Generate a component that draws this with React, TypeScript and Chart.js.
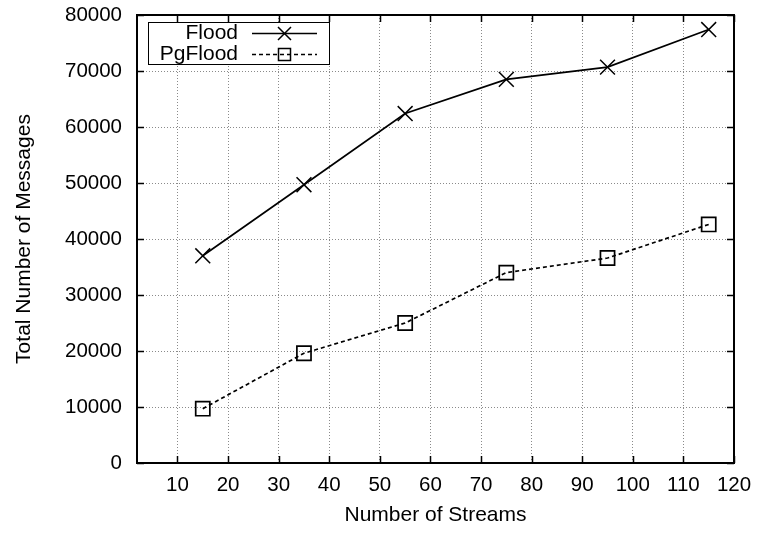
import React, { useEffect, useRef } from 'react';
import { Chart, registerables } from 'chart.js';

Chart.register(...registerables);

const streams = [15, 35, 55, 75, 95, 115];
const floodMessages = [37000, 49700, 62400, 68500, 70700, 77400];
const pgFloodMessages = [9700, 19600, 25000, 34000, 36600, 42600];
const xTickValues = [10, 20, 30, 40, 50, 60, 70, 80, 90, 100, 110, 120];
const yTickValues = [0, 10000, 20000, 30000, 40000, 50000, 60000, 70000, 80000];
const seriesNames = ['Flood', 'PgFlood'];
const xTitle = 'Number of Streams';
const yTitle = 'Total Number of Messages';

const FONT = '"Liberation Sans", Arial, Helvetica, sans-serif';
const FS = 20.5;
const TFS = 21;

function drawMarker(ctx: CanvasRenderingContext2D, kind: string, x: number, y: number, h: number) {
  ctx.beginPath();
  if (kind === 'x') {
    ctx.moveTo(x - h, y - h);
    ctx.lineTo(x + h, y + h);
    ctx.moveTo(x - h, y + h);
    ctx.lineTo(x + h, y - h);
  } else {
    ctx.rect(x - h, y - h, 2 * h, 2 * h);
  }
  ctx.stroke();
}

const framePlugin = {
  id: 'gnuFrame',
  afterDraw(chart: any) {
    const { ctx, chartArea } = chart;
    const { left, right, top, bottom } = chartArea;
    const xs = chart.scales.x;
    const ys = chart.scales.y;
    ctx.save();
    ctx.strokeStyle = '#000';
    ctx.lineWidth = 1.5;
    ctx.setLineDash([]);
    const tl = 7;
    ctx.beginPath();
    xTickValues.forEach((v) => {
      const px = Math.round(xs.getPixelForValue(v)) + 0.5;
      ctx.moveTo(px, bottom);
      ctx.lineTo(px, bottom - tl);
      ctx.moveTo(px, top);
      ctx.lineTo(px, top + tl);
    });
    yTickValues.forEach((v) => {
      const py = Math.round(ys.getPixelForValue(v)) + 0.5;
      ctx.moveTo(left, py);
      ctx.lineTo(left + tl, py);
      ctx.moveTo(right, py);
      ctx.lineTo(right - tl, py);
    });
    ctx.stroke();

    // legend box
    const bx = left + 11;
    const by = top + 7;
    const bw = 181;
    const bh = 42;
    ctx.fillStyle = '#fff';
    ctx.fillRect(bx, by, bw, bh);
    ctx.lineWidth = 1;
    ctx.strokeRect(bx + 0.5, by + 0.5, bw, bh);

    ctx.font = `${TFS}px ${FONT}`;
    ctx.fillStyle = '#000';
    ctx.textAlign = 'right';
    ctx.textBaseline = 'middle';
    const rows = [by + 10.5, by + 31.5];
    const textRight = bx + 90;
    const lineStart = bx + 104;
    const lineEnd = bx + 169;
    const mid = (lineStart + lineEnd) / 2;
    seriesNames.forEach((name, i) => {
      const ry = rows[i];
      ctx.fillText(name, textRight, ry + 1);
      ctx.lineWidth = 1.5;
      ctx.setLineDash(i === 0 ? [] : [4, 3]);
      ctx.beginPath();
      ctx.moveTo(lineStart, Math.round(ry) + 0.5);
      ctx.lineTo(lineEnd, Math.round(ry) + 0.5);
      ctx.stroke();
      ctx.setLineDash([]);
      drawMarker(ctx, i === 0 ? 'x' : 'sq', mid, Math.round(ry) + 0.5, i === 0 ? 6.5 : 6);
    });

    // frame
    ctx.lineWidth = 2;
    ctx.setLineDash([]);
    ctx.strokeRect(left, top, right - left, bottom - top);
    ctx.restore();
  },
};

export default function App() {
  const ref = useRef<HTMLCanvasElement | null>(null);
  useEffect(() => {
    if (!ref.current) return;
    const chart = new Chart(ref.current, {
      type: 'line',
      data: {
        labels: streams,
        datasets: [
          {
            label: seriesNames[0],
            data: streams.map((s, i) => ({ x: s, y: floodMessages[i] })),
            borderColor: '#000',
            backgroundColor: 'transparent',
            borderWidth: 1.7,
            pointStyle: 'crossRot',
            pointRadius: 10.5,
            pointBorderWidth: 1.5,
            pointBorderColor: '#000',
            tension: 0,
          },
          {
            label: seriesNames[1],
            data: streams.map((s, i) => ({ x: s, y: pgFloodMessages[i] })),
            borderColor: '#000',
            backgroundColor: 'transparent',
            borderWidth: 1.7,
            borderDash: [4, 3],
            pointStyle: 'rect',
            pointRadius: 10,
            pointBorderWidth: 1.7,
            pointBorderColor: '#000',
            pointBackgroundColor: 'transparent',
            tension: 0,
          },
        ],
      },
      options: {
        animation: false,
        responsive: false,
        layout: { autoPadding: false, padding: { top: 15, right: 24, left: 0, bottom: 0 } },
        plugins: { legend: { display: false }, tooltip: { enabled: false } },
        scales: {
          x: {
            type: 'linear',
            min: 2,
            max: 120,
            afterBuildTicks: (s: any) => {
              s.ticks = xTickValues.map((v) => ({ value: v }));
            },
            afterFit: (s: any) => {
              s.height = 70;
              s.paddingLeft = 0;
              s.paddingRight = 0;
            },
            border: { display: false, dash: [1, 2] },
            grid: { drawTicks: false, color: '#8a8a8a', lineWidth: 1 },
            ticks: {
              color: '#000',
              font: { family: FONT, size: FS },
              padding: 10,
              maxRotation: 0,
              autoSkip: false,
              callback: (v: any) => String(v),
            },
            title: { display: true, text: xTitle, color: '#000', font: { family: FONT, size: TFS }, padding: { top: 0, bottom: 5 } },
          },
          y: {
            type: 'linear',
            min: 0,
            max: 80000,
            afterBuildTicks: (s: any) => {
              s.ticks = yTickValues.map((v) => ({ value: v }));
            },
            afterFit: (s: any) => {
              s.width = 137;
              s.paddingTop = 0;
              s.paddingBottom = 0;
            },
            border: { display: false, dash: [1, 2] },
            grid: { drawTicks: false, color: '#8a8a8a', lineWidth: 1 },
            ticks: {
              color: '#000',
              font: { family: FONT, size: FS },
              padding: 15,
              autoSkip: false,
              callback: (v: any) => String(v),
            },
            title: { display: true, text: yTitle, color: '#000', font: { family: FONT, size: TFS }, padding: { top: 12, bottom: 0 } },
          },
        },
      },
      plugins: [framePlugin],
    } as any);
    return () => chart.destroy();
  }, []);
  return (
    <div style={{ position: 'absolute', left: 0, top: 0, width: 758, height: 533 }}>
      <canvas ref={ref} width={758} height={533} />
    </div>
  );
}
